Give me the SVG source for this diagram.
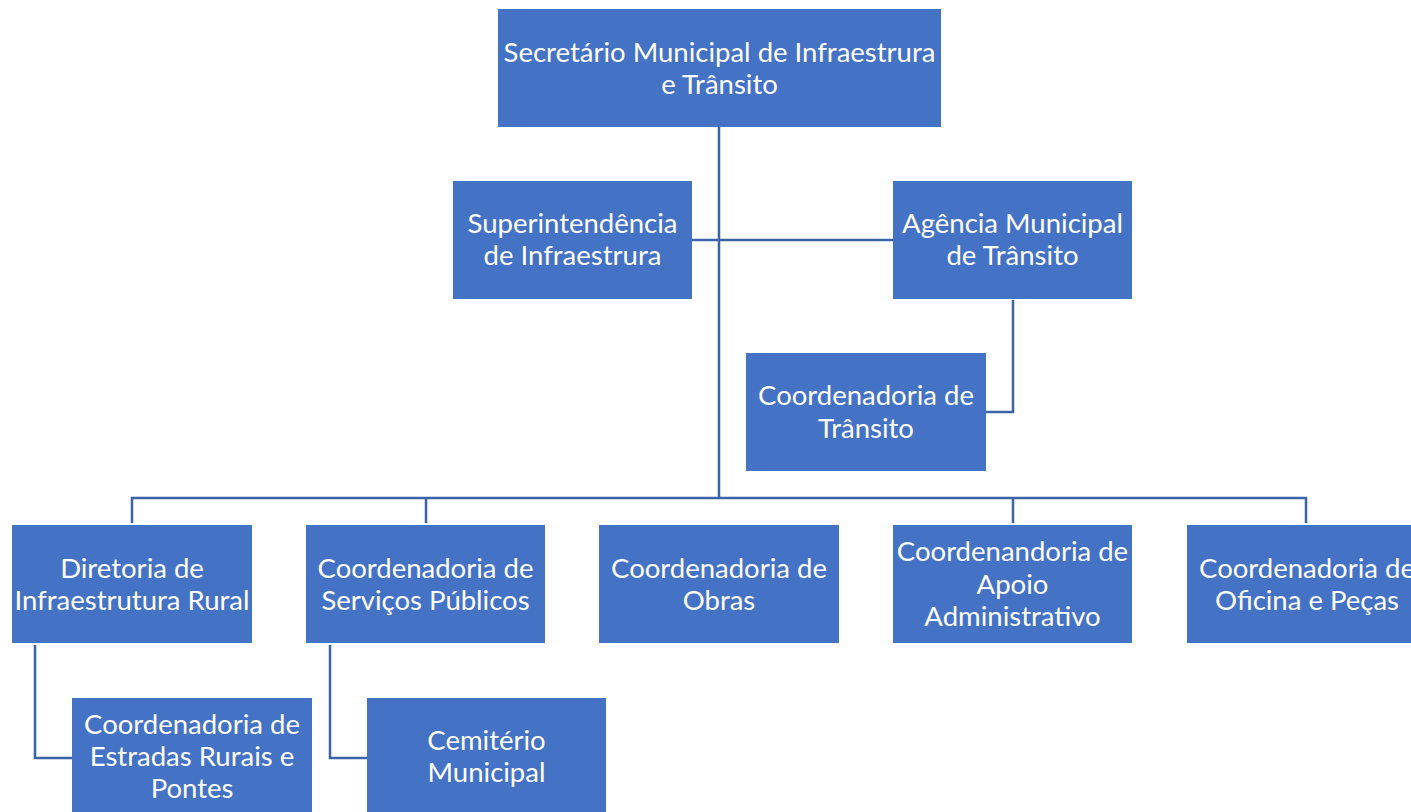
<svg xmlns="http://www.w3.org/2000/svg" width="1411" height="812" viewBox="0 0 1411 812">
<style>
.box{fill:#4472C4;}
.t{fill:#FFFFFF;font-family:Lato,"Open Sans",sans-serif;font-size:27.5px;text-anchor:middle;}
.c{fill:none;stroke:#3B63A8;stroke-width:2.5;}
</style>
<rect width="1411" height="812" fill="#FFFFFF"/>
<g id="connectors">
<path class="c" d="M719 127 V498"/>
<path class="c" d="M692 240 H893"/>
<path class="c" d="M1013 300 V412 H986"/>
<path class="c" d="M132 523 V498 H1306 V523"/>
<path class="c" d="M426 498 V523"/>
<path class="c" d="M1013 498 V523"/>
<path class="c" d="M35 645 V758 H72"/>
<path class="c" d="M330 645 V758 H367"/>
</g>
<g id="n1"><rect class="box" x="498" y="9" width="443" height="118"/>
<text class="t" x="719.5" y="62">Secretário Municipal de Infraestrura</text>
<text class="t" x="719.5" y="94">e Trânsito</text></g>
<g id="n2"><rect class="box" x="453" y="181" width="239" height="118"/>
<text class="t" x="572.5" y="233">Superintendência</text>
<text class="t" x="572.5" y="265">de Infraestrura</text></g>
<g id="n3"><rect class="box" x="893" y="181" width="239" height="118"/>
<text class="t" x="1012.5" y="233">Agência Municipal</text>
<text class="t" x="1012.5" y="265">de Trânsito</text></g>
<g id="n4"><rect class="box" x="746" y="353" width="240" height="118"/>
<text class="t" x="866" y="405">Coordenadoria de</text>
<text class="t" x="866" y="438">Trânsito</text></g>
<g id="n5"><rect class="box" x="12" y="525" width="240" height="118"/>
<text class="t" x="132" y="578">Diretoria de</text>
<text class="t" x="132" y="610">Infraestrutura Rural</text></g>
<g id="n6"><rect class="box" x="306" y="525" width="239" height="118"/>
<text class="t" x="425.5" y="578">Coordenadoria de</text>
<text class="t" x="425.5" y="610">Serviços Públicos</text></g>
<g id="n7"><rect class="box" x="599" y="525" width="240" height="118"/>
<text class="t" x="719" y="578">Coordenadoria de</text>
<text class="t" x="719" y="610">Obras</text></g>
<g id="n8"><rect class="box" x="893" y="525" width="239" height="118"/>
<text class="t" x="1012.5" y="561">Coordenandoria de</text>
<text class="t" x="1012.5" y="594">Apoio</text>
<text class="t" x="1012.5" y="626">Administrativo</text></g>
<g id="n9"><rect class="box" x="1187" y="525" width="240" height="118"/>
<text class="t" x="1307" y="578">Coordenadoria de</text>
<text class="t" x="1307" y="610">Oficina e Peças</text></g>
<g id="n10"><rect class="box" x="72" y="698" width="240" height="118"/>
<text class="t" x="192" y="734">Coordenadoria de</text>
<text class="t" x="192" y="766">Estradas Rurais e</text>
<text class="t" x="192" y="798">Pontes</text></g>
<g id="n11"><rect class="box" x="367" y="698" width="239" height="118"/>
<text class="t" x="486.5" y="750">Cemitério</text>
<text class="t" x="486.5" y="782">Municipal</text></g>
</svg>
